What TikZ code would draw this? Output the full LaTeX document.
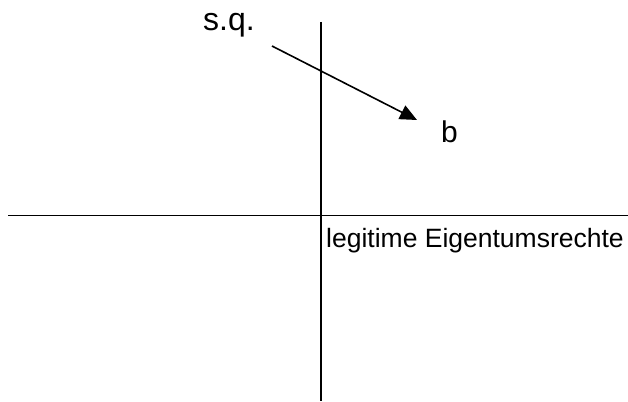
\documentclass[tikz,border=0pt]{standalone}
\usepackage{fontspec}
\setmainfont{Liberation Sans}
\usetikzlibrary{arrows.meta}
\begin{document}
\begin{tikzpicture}[x=1pt,y=-1pt,
  axis/.style={line width=1.6pt,black},
  lbl/.style={inner sep=0pt,anchor=base west}]
\useasboundingbox (0,0) rectangle (628,401);
\coordinate (vt) at (321,22);
\coordinate (vb) at (321,401);
\coordinate (hl) at (8,215.5);
\coordinate (hr) at (628,215.5);
\draw[axis] (vt) -- (vb);
\draw[axis] (hl) -- (hr);
\coordinate (as) at (272,46);
\coordinate (ae) at (417,120);
\draw[line width=1.6pt,-{Triangle[length=17pt,width=15pt]}] (as) -- (ae);
\node[lbl,font=\fontsize{32}{36}\selectfont] (sq) at (203,31) {s.q.};
\node[lbl,font=\fontsize{30}{34}\selectfont] (b) at (441,142.7) {b};
\node[lbl,font=\fontsize{26.5}{30}\selectfont] (leg) at (326,247.7) {legitime Eigentumsrechte};
\end{tikzpicture}
\end{document}
